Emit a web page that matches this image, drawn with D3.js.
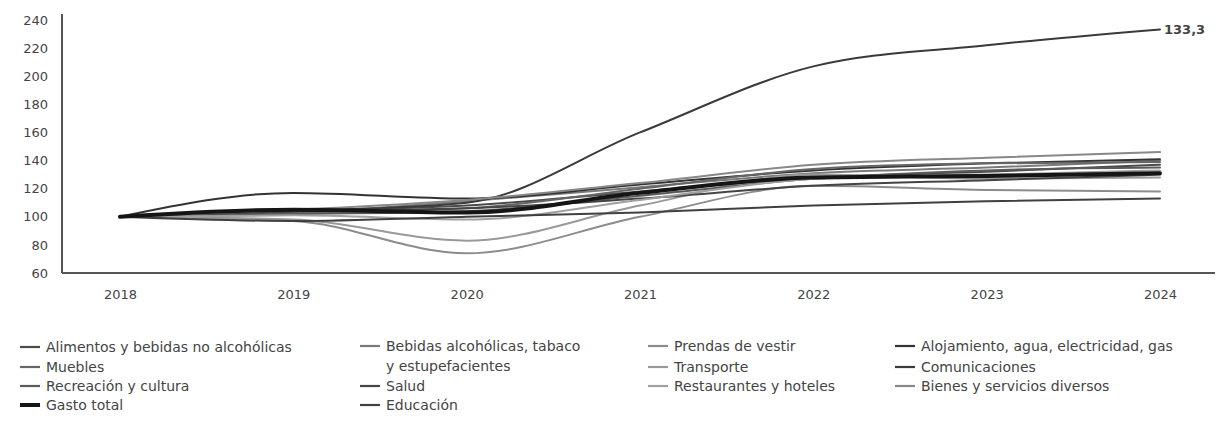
<!DOCTYPE html>
<html>
<head>
<meta charset="utf-8">
<script src="https://cdn.jsdelivr.net/npm/d3@7"></script>
<style>
  body { margin: 0; background: #fff; }
  svg { display: block; font-family: "DejaVu Sans", "Liberation Sans", Arial, sans-serif; }
</style>
</head>
<body>
<div id="chart"></div>
<script>
// Data (index, 2018 = 100)
const years = ["2018", "2019", "2020", "2021", "2022", "2023", "2024"];
const yTicks = [60, 80, 100, 120, 140, 160, 180, 200, 220, 240];

const alimentos    = [100, 104, 108, 118, 128, 132, 137];
const bebidas      = [100, 103, 111, 121, 131, 135, 140];
const prendas      = [100, 97, 74, 100, 122, 119, 118];
const alojamiento  = [100, 117, 113, 123, 133, 138, 141];
const muebles      = [100, 103, 106, 120, 134, 138, 139];
const transporte   = [100, 98, 83, 108, 130, 127, 128];
const comunicac    = [100, 104, 110, 160, 207, 222, 233.3];
const recreacion   = [100, 102, 104, 115, 127, 133, 135];
const salud        = [100, 104, 106, 113, 122, 126, 130];
const restaurantes = [100, 101, 98, 112, 127, 130, 133];
const bienes       = [100, 105, 112, 124, 137, 142, 146];
const gastoTotal   = [100, 105, 103, 117, 128, 129, 131];
const educacion    = [100, 97, 100, 103, 108, 111, 113];

const seriesNames = [
  "Alimentos y bebidas no alcohólicas", "Bebidas alcohólicas, tabaco y estupefacientes",
  "Prendas de vestir", "Alojamiento, agua, electricidad, gas", "Muebles", "Transporte",
  "Comunicaciones", "Recreación y cultura", "Salud", "Restaurantes y hoteles",
  "Bienes y servicios diversos", "Gasto total", "Educación"
];
const seriesValues = [alimentos, bebidas, prendas, alojamiento, muebles, transporte,
  comunicac, recreacion, salud, restaurantes, bienes, gastoTotal, educacion];
const seriesColors = ["#4a4a4a", "#7a7a7a", "#8c8c8c", "#333", "#666", "#999",
  "#3a3a3a", "#5a5a5a", "#454545", "#a0a0a0", "#888", "#151515", "#404040"];
const endLabel = "133,3";

const W = 1229, H = 424;
const svg = d3.select("#chart").append("svg")
  .attr("width", W).attr("height", H);

const x = d3.scalePoint().domain(years).range([120, 1160]);
const y = d3.scaleLinear().domain([60, 240]).range([273, 20]);

// axes
const yAxis = svg.append("g")
  .attr("transform", "translate(62,0)")
  .call(d3.axisLeft(y).tickValues(yTicks).tickSize(0).tickPadding(14));
yAxis.select(".domain").remove();
yAxis.selectAll("text").attr("font-size", 13).attr("fill", "#444")
  .attr("font-family", "'DejaVu Sans', sans-serif");

const xAxis = svg.append("g")
  .attr("transform", "translate(0,273)")
  .call(d3.axisBottom(x).tickSize(0).tickPadding(17));
xAxis.select(".domain").remove();
xAxis.selectAll("text").attr("font-size", 13).attr("fill", "#444")
  .attr("font-family", "'DejaVu Sans', sans-serif");

svg.append("line").attr("x1", 62).attr("x2", 62).attr("y1", 14).attr("y2", 273)
  .attr("stroke", "#555").attr("stroke-width", 2);
svg.append("line").attr("x1", 62).attr("x2", 1215).attr("y1", 273).attr("y2", 273)
  .attr("stroke", "#555").attr("stroke-width", 2);

// lines
const line = d3.line()
  .x((d, i) => x(years[i]))
  .y(d => y(d))
  .curve(d3.curveMonotoneX);

const order = d3.range(seriesNames.length).filter(i => i !== 11).concat([11]);
svg.append("g").selectAll("path")
  .data(order)
  .enter()
  .append("path")
  .attr("d", i => line(seriesValues[i]))
  .attr("fill", "none")
  .attr("stroke", i => seriesColors[i])
  .attr("stroke-width", i => i === 11 ? 4 : 2)
  .attr("stroke-linecap", "round");

svg.append("text")
  .attr("x", x(years[6]) + 4)
  .attr("y", y(comunicac[6]))
  .attr("dy", "0.35em")
  .attr("font-size", 13)
  .attr("font-weight", "bold")
  .attr("fill", "#444")
  .text(endLabel);

// legend
const legendItems = [
  {i: 0, x: 20, y: 347}, {i: 4, x: 20, y: 367}, {i: 7, x: 20, y: 386}, {i: 11, x: 20, y: 405},
  {i: 1, x: 360, y: 346}, {i: 8, x: 360, y: 386}, {i: 12, x: 360, y: 405},
  {i: 2, x: 648, y: 346}, {i: 5, x: 648, y: 367}, {i: 9, x: 648, y: 386},
  {i: 3, x: 895, y: 346}, {i: 6, x: 895, y: 367}, {i: 10, x: 895, y: 386}
];
const lg = svg.append("g").selectAll("g")
  .data(legendItems)
  .enter()
  .append("g")
  .attr("transform", d => "translate(" + d.x + "," + d.y + ")");
lg.append("line")
  .attr("x1", 0).attr("x2", 20)
  .attr("stroke", d => seriesColors[d.i])
  .attr("stroke-width", d => d.i === 11 ? 4 : 2.2);
lg.append("text")
  .attr("x", 26)
  .attr("dy", "0.35em")
  .attr("font-size", 14)
  .attr("fill", "#444")
  .each(function (d) {
    const t = d3.select(this);
    if (d.i === 1) {
      t.append("tspan").attr("x", 26).text("Bebidas alcohólicas, tabaco");
      t.append("tspan").attr("x", 26).attr("dy", 20).text("y estupefacientes");
    } else {
      t.text(seriesNames[d.i]);
    }
  });
</script>
</body>
</html>
